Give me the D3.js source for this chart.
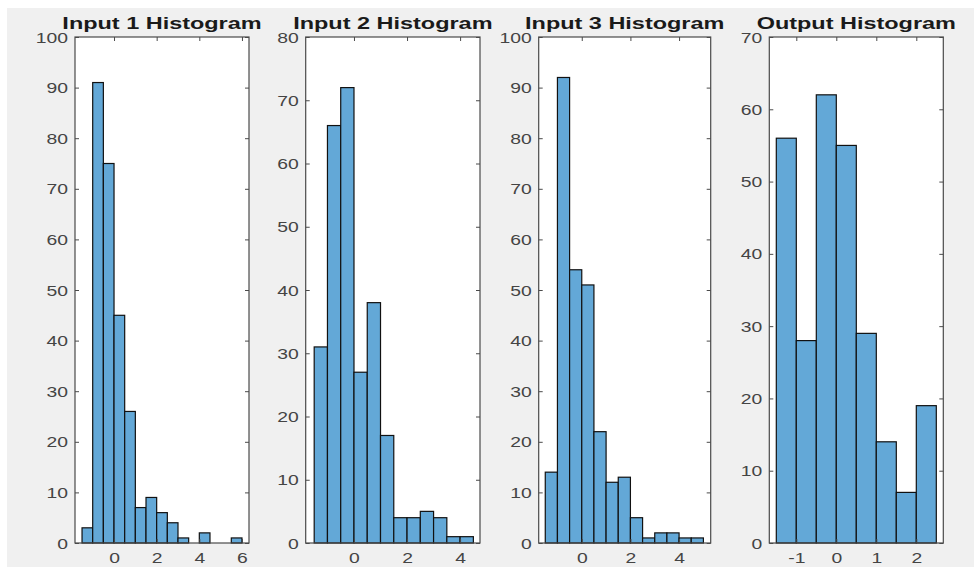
<!DOCTYPE html>
<html>
<head>
<meta charset="utf-8">
<script src="https://cdn.jsdelivr.net/npm/d3@7"></script>
<style>
  body { margin: 0; background: #fff; }
  text { font-family: "Liberation Sans", Arial, Helvetica, sans-serif; }
</style>
</head>
<body>
<div id="chart"></div>
<script>
// data
const titles = ["Input 1 Histogram", "Input 2 Histogram", "Input 3 Histogram", "Output Histogram"]
const binWidth = 0.5
const binStart = [-1.5, -1.5, -1.5, -1.5]
const counts1 = [3, 91, 75, 45, 26, 7, 9, 6, 4, 1, 0, 2, 0, 0, 1]
const counts2 = [31, 66, 72, 27, 38, 17, 4, 4, 5, 4, 1, 1]
const counts3 = [14, 92, 54, 51, 22, 12, 13, 5, 1, 2, 2, 1, 1]
const countsOut = [56, 28, 62, 55, 29, 14, 7, 19]
const xTicks = [[0, 2, 4, 6], [0, 2, 4], [0, 2, 4], [-1, 0, 1, 2]]
const yMax = [100, 80, 100, 70]
const xLimits = [[-1.83, 6.33], [-1.82, 4.75], [-1.77, 5.30], [-1.675, 2.675]]

const allCounts = [counts1, counts2, counts3, countsOut]

//constants
const width = 974, height = 567
const plotTop = 37, plotBottom = 543
const panelX = [[75, 249], [305.7, 480], [538.7, 710.7], [769.3, 943.3]]
const sx = 1.38   // the picture is stretched sideways
const tickLen = 4

const svg = d3.select("#chart")
    .append("svg")
    .attr("width", width)
    .attr("height", height)

// figure background
svg.append("rect")
    .attr("x", 7).attr("y", 8)
    .attr("width", width - 7).attr("height", height - 8)
    .attr("fill", "#f0f0f0")

allCounts.forEach((counts, i) => {
    const bins = counts.map((c, j) => ({ x0: binStart[i] + j * binWidth, x1: binStart[i] + (j + 1) * binWidth, count: c }))

    const xScale = d3.scaleLinear()
        .domain(xLimits[i])
        .range(panelX[i])
    const yScale = d3.scaleLinear()
        .domain([0, yMax[i]])
        .range([plotBottom, plotTop])

    const g = svg.append("g")

    // white plot area
    g.append("rect")
        .attr("x", panelX[i][0]).attr("y", plotTop)
        .attr("width", panelX[i][1] - panelX[i][0]).attr("height", plotBottom - plotTop)
        .attr("fill", "white")

    // bars
    g.selectAll("rect.bar")
        .data(bins)
        .join("rect")
        .attr("class", "bar")
        .attr("x", d => xScale(d.x0))
        .attr("width", d => xScale(d.x1) - xScale(d.x0))
        .attr("y", d => yScale(d.count))
        .attr("height", d => plotBottom - yScale(d.count))
        .attr("fill", "#63a8d7")
        .attr("stroke", "#111")
        .attr("stroke-width", 1.2)

    const yTicks = d3.range(0, yMax[i] + 1, 10)

    // axes, ticks pointing inwards
    const left = g.append("g")
        .attr("transform", `translate(${panelX[i][0]},0)`)
        .call(d3.axisLeft(yScale).tickValues(yTicks).tickSizeInner(-tickLen).tickSizeOuter(0).tickPadding(7))
    const bot = g.append("g")
        .attr("transform", `translate(0,${plotBottom})`)
        .call(d3.axisBottom(xScale).tickValues(xTicks[i]).tickSizeInner(-tickLen).tickSizeOuter(0).tickPadding(8))
    g.append("g")
        .attr("transform", `translate(${panelX[i][1]},0)`)
        .call(d3.axisRight(yScale).tickValues(yTicks).tickSizeInner(-tickLen).tickSizeOuter(0).tickFormat(""))
    g.append("g")
        .attr("transform", `translate(0,${plotTop})`)
        .call(d3.axisTop(xScale).tickValues(xTicks[i]).tickSizeInner(-tickLen).tickSizeOuter(0).tickFormat(""))

    g.selectAll(".domain").remove()
    g.selectAll(".tick line").attr("stroke", "#4a4a4a")

    left.selectAll("text")
        .attr("x", null).attr("dy", "0.36em")
        .attr("transform", "translate(-7,0) scale(" + sx + ",1)")
        .attr("font-size", 14).attr("fill", "#444")
    bot.selectAll("text")
        .attr("y", null).attr("dy", null)
        .attr("transform", "translate(0,20) scale(" + sx + ",1)")
        .attr("font-size", 14).attr("fill", "#444")
        .text(d => d < 0 ? "-" + Math.abs(d) : d)
    g.selectAll(".tick text").attr("font-family", null)
    g.selectAll("g").attr("font-family", null)

    // box
    g.append("rect")
        .attr("x", panelX[i][0]).attr("y", plotTop)
        .attr("width", panelX[i][1] - panelX[i][0]).attr("height", plotBottom - plotTop)
        .attr("fill", "none")
        .attr("stroke", "#4a4a4a")
        .attr("stroke-width", 1.2)

    // title
    g.append("text")
        .attr("transform", `translate(${(panelX[i][0] + panelX[i][1]) / 2},29) scale(${sx},1)`)
        .attr("text-anchor", "middle")
        .attr("font-size", 17)
        .attr("font-weight", "bold")
        .attr("fill", "#1a1a1a")
        .text(titles[i])
})
</script>
</body>
</html>
